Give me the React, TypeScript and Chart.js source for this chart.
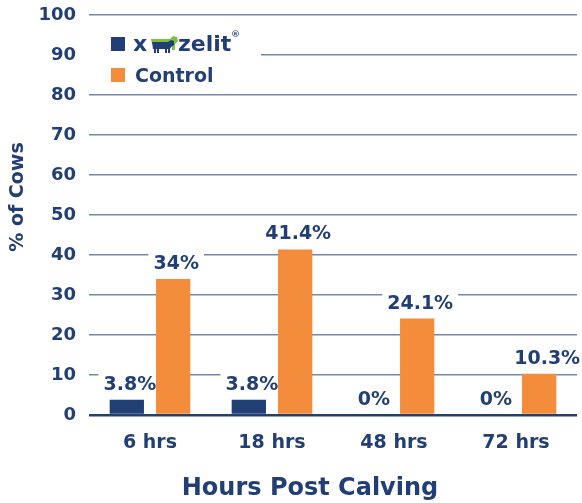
import React, { useEffect, useRef } from "react";
import { Chart, registerables } from "chart.js";
Chart.register(...registerables);

const categories = ["6 hrs", "18 hrs", "48 hrs", "72 hrs"];
const seriesNames = ["xzelit", "Control"];
const xzelitValues = [3.8, 3.8, 0, 0];
const controlValues = [34, 41.4, 24.1, 10.3];
const xzelitLabels = ["3.8%", "3.8%", "0%", "0%"];
const controlLabels = ["34%", "41.4%", "24.1%", "10.3%"];
const yTitle = "% of Cows";
const xTitle = "Hours Post Calving";
const yMin = 0;
const yMax = 100;
const yStep = 10;

const NAVY = "#223f75";
const ORANGE = "#f48d3b";
const GRID = "#7387b1";
const GREEN = "#7ac143";
const FONT = "'DejaVu Sans', sans-serif";

const labelX = (bar: any, di: number, j: number) => bar.x + (di === 1 && j === 3 ? 8 : 3);

const overlayPlugin = {
  id: "overlay",
  beforeDatasetsDraw(chart: any) {
    const ctx = chart.ctx;
    ctx.save();
    ctx.fillStyle = "#ffffff";
    // legend backdrop
    ctx.fillRect(chart.chartArea.left, 26, 172, 60);
    ctx.font = `bold 19px ${FONT}`;
    const allLabels = [xzelitLabels, controlLabels];
    allLabels.forEach((labels, di) => {
      const meta = chart.getDatasetMeta(di);
      meta.data.forEach((bar: any, j: number) => {
        const w = ctx.measureText(labels[j]).width;
        const x = labelX(bar, di, j);
        const y = bar.y - 10;
        ctx.fillRect(x - w / 2 - 5, y - 18, w + 10, 22);
      });
    });
    ctx.restore();
  },
  afterDatasetsDraw(chart: any) {
    const ctx = chart.ctx;
    ctx.save();
    ctx.fillStyle = NAVY;
    ctx.font = `bold 19px ${FONT}`;
    ctx.textAlign = "center";
    ctx.textBaseline = "alphabetic";
    const allLabels = [xzelitLabels, controlLabels];
    allLabels.forEach((labels, di) => {
      const meta = chart.getDatasetMeta(di);
      meta.data.forEach((bar: any, j: number) => {
        ctx.fillText(labels[j], labelX(bar, di, j), bar.y - 10);
      });
    });

    // legend
    ctx.textAlign = "left";
    ctx.fillStyle = NAVY;
    ctx.fillRect(111, 37, 14, 14);
    ctx.fillStyle = ORANGE;
    ctx.fillRect(111, 68, 14, 14);
    ctx.fillStyle = NAVY;
    ctx.font = `bold 19px ${FONT}`;
    ctx.fillText(seriesNames[1], 135, 82);
    // logo: x [cow] zelit®
    ctx.font = `bold 22px ${FONT}`;
    ctx.fillText("x", 133, 51);
    // green cow silhouette (behind, raised)
    ctx.fillStyle = GREEN;
    ctx.beginPath();
    ctx.moveTo(151, 39);
    ctx.lineTo(170, 39);
    ctx.lineTo(173, 36);
    ctx.lineTo(177, 37);
    ctx.lineTo(178, 41);
    ctx.lineTo(175, 44);
    ctx.lineTo(175, 50);
    ctx.lineTo(172, 50);
    ctx.lineTo(172, 44);
    ctx.lineTo(152, 44);
    ctx.closePath();
    ctx.fill();
    // navy cow silhouette
    ctx.fillStyle = NAVY;
    ctx.beginPath();
    ctx.moveTo(152, 42);
    ctx.lineTo(168, 42);
    ctx.lineTo(171, 40);
    ctx.lineTo(174, 41);
    ctx.lineTo(174, 45);
    ctx.lineTo(171, 47);
    ctx.lineTo(170, 49);
    ctx.lineTo(153, 49);
    ctx.closePath();
    ctx.fill();
    ctx.fillRect(154, 48, 2, 5);
    ctx.fillRect(157, 48, 2, 5);
    ctx.fillRect(165, 48, 2, 5);
    ctx.fillRect(168, 48, 2, 5);
    ctx.fillStyle = NAVY;
    ctx.font = `bold 22px ${FONT}`;
    ctx.fillText("zelit", 178, 51);
    ctx.font = `bold 9px ${FONT}`;
    ctx.fillText("®", 231, 37);

    // axis titles
    ctx.font = `bold 24px ${FONT}`;
    ctx.textAlign = "center";
    ctx.fillText(xTitle, 310, 495);
    ctx.save();
    ctx.translate(18, 197);
    ctx.rotate(-Math.PI / 2);
    ctx.font = `bold 19px ${FONT}`;
    ctx.textBaseline = "middle";
    ctx.fillText(yTitle, 0, 0);
    ctx.restore();
    ctx.restore();
  },
};

export default function App() {
  const ref = useRef<HTMLCanvasElement>(null);
  useEffect(() => {
    if (!ref.current) return;
    const chart = new Chart(ref.current, {
      type: "bar",
      data: {
        labels: categories,
        datasets: [
          {
            label: seriesNames[0],
            data: xzelitValues,
            backgroundColor: NAVY,
            categoryPercentage: 0.76,
            barPercentage: 0.74,
          },
          {
            label: seriesNames[1],
            data: controlValues,
            backgroundColor: ORANGE,
            categoryPercentage: 0.76,
            barPercentage: 0.74,
          },
        ],
      },
      options: {
        responsive: false,
        animation: false,
        devicePixelRatio: 1,
        layout: { padding: { top: 15, right: 5, left: 0, bottom: 0 } },
        plugins: {
          legend: { display: false },
          tooltip: { enabled: false },
          title: { display: false },
        },
        scales: {
          x: {
            grid: { display: false },
            border: { display: false },
            ticks: {
              color: NAVY,
              font: { family: FONT, size: 19, weight: "bold" },
              padding: 9,
            },
            afterFit(scale: any) {
              scale.height = 88;
              scale.paddingLeft = 0;
              scale.paddingRight = 0;
            },
          },
          y: {
            min: yMin,
            max: yMax,
            border: { display: false },
            grid: {
              drawTicks: false,
              color: (c: any) => (c.tick && c.tick.value === 0 ? NAVY : GRID),
              lineWidth: (c: any) => (c.tick && c.tick.value === 0 ? 2.5 : 1.5),
            },
            ticks: {
              stepSize: yStep,
              color: NAVY,
              font: { family: FONT, size: 18, weight: "bold" },
              padding: 13,
            },
            afterFit(scale: any) {
              scale.width = 89;
              scale.paddingTop = 0;
              scale.paddingBottom = 0;
            },
          },
        },
      },
      plugins: [overlayPlugin],
    });
    return () => chart.destroy();
  }, []);
  return (
    <div style={{ position: "absolute", left: 0, top: 0, width: 582, height: 503, background: "#fff" }}>
      <canvas ref={ref} width={582} height={503} style={{ display: "block" }} />
    </div>
  );
}
